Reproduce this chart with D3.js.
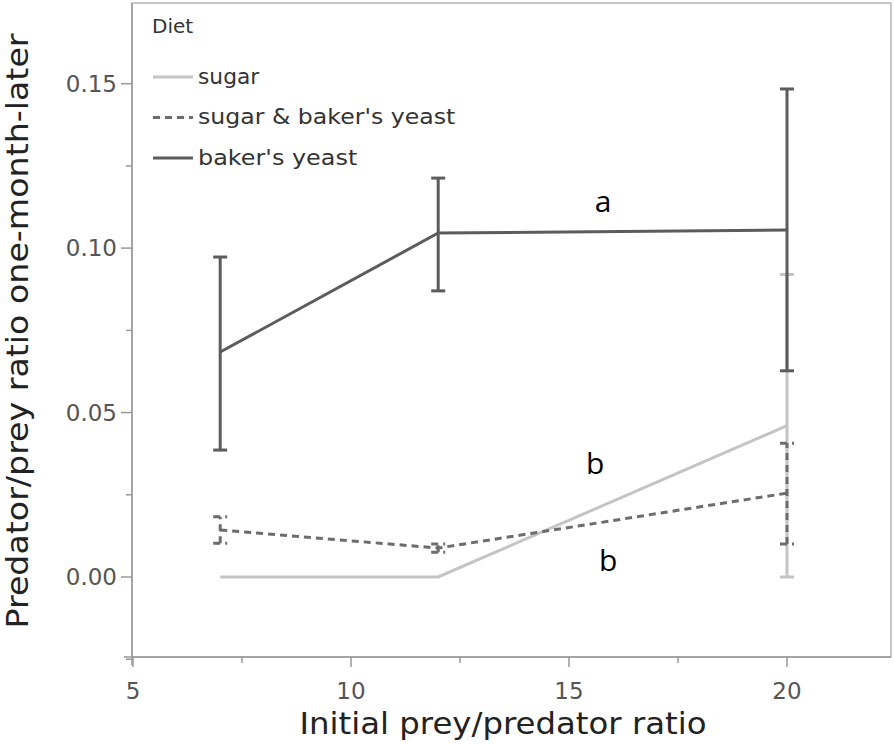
<!DOCTYPE html>
<html>
<head>
<meta charset="utf-8">
<script src="https://cdn.jsdelivr.net/npm/d3@7"></script>
<style>
  body { margin: 0; background: #fff; }
  svg { display: block; font-family: "DejaVu Sans", Verdana, sans-serif; }
</style>
</head>
<body>
<svg class="chart" width="894" height="744"></svg>
<script>
// initial prey/predator ratios
const ratios = [7, 12, 20];
const diets = ["sugar", "sugar & baker's yeast", "baker's yeast"];

// means and error bar limits
const sugarMean = [0.0, 0.0, 0.046];
const sugarLow = [0.0, 0.0, 0.0];
const sugarHigh = [0.0, 0.0, 0.092];

const mixMean = [0.0143, 0.0088, 0.0255];
const mixLow = [0.0103, 0.0075, 0.0100];
const mixHigh = [0.0183, 0.0100, 0.0407];

const yeastMean = [0.0684, 0.1046, 0.1055];
const yeastLow = [0.0386, 0.087, 0.0627];
const yeastHigh = [0.0973, 0.1213, 0.1484];

const xTicks = [5, 10, 15, 20];
const yTicks = [0.00, 0.05, 0.10, 0.15];

const letters = [
  { label: "a", x: 15.78, y: 0.111 },
  { label: "b", x: 15.6, y: 0.0313 },
  { label: "b", x: 15.9, y: 0.0018 }
];

const series = [
  { name: diets[0], mean: sugarMean, low: sugarLow, high: sugarHigh, color: "#c4c4c4", dash: null },
  { name: diets[1], mean: mixMean, low: mixLow, high: mixHigh, color: "#6c6c6c", dash: "7,5" },
  { name: diets[2], mean: yeastMean, low: yeastLow, high: yeastHigh, color: "#5c5c5c", dash: null }
];

const svg = d3.select(".chart");
const frame = { left: 132, right: 891, top: 3, bottom: 657 };

const x = d3.scaleLinear().domain([5, 20]).range([133, 787]);
const y = d3.scaleLinear().domain([0, 0.15]).range([577, 83.7]);

// frame
svg.append("rect")
  .attr("x", frame.left).attr("y", frame.top)
  .attr("width", frame.right - frame.left).attr("height", frame.bottom - frame.top)
  .attr("fill", "none").attr("stroke", "#b4b4b4").attr("stroke-width", 1.5);

// y axis
const yMinor = [-0.025, 0.025, 0.075, 0.125];
const yAxis = svg.append("g").attr("transform", `translate(${frame.left},0)`);
yAxis.append("line").attr("y1", frame.top).attr("y2", frame.bottom + 8)
  .attr("stroke", "#999").attr("stroke-width", 1.5);
yAxis.selectAll(".maj").data(yTicks).join("line")
  .attr("x1", -11).attr("x2", 0)
  .attr("y1", d => y(d)).attr("y2", d => y(d))
  .attr("stroke", "#999").attr("stroke-width", 1.5);
yAxis.selectAll(".min").data(yMinor).join("line")
  .attr("x1", -6).attr("x2", 0)
  .attr("y1", d => y(d)).attr("y2", d => y(d))
  .attr("stroke", "#999").attr("stroke-width", 1.5);
yAxis.selectAll("text").data(yTicks).join("text")
  .attr("x", -15).attr("y", d => y(d))
  .attr("dy", "0.36em").attr("text-anchor", "end")
  .attr("font-size", 23).attr("fill", "#555")
  .text(d => d3.format(".2f")(d));

// x axis
const xMinor = [7.5, 12.5, 17.5];
const xAxis = svg.append("g").attr("transform", `translate(0,${frame.bottom})`);
xAxis.append("line").attr("x1", frame.left - 8).attr("x2", frame.right)
  .attr("stroke", "#999").attr("stroke-width", 1.5);
xAxis.selectAll(".maj").data(xTicks).join("line")
  .attr("x1", d => x(d)).attr("x2", d => x(d))
  .attr("y1", 0).attr("y2", 10)
  .attr("stroke", "#999").attr("stroke-width", 1.5);
xAxis.selectAll(".min").data(xMinor).join("line")
  .attr("x1", d => x(d)).attr("x2", d => x(d))
  .attr("y1", 0).attr("y2", 6)
  .attr("stroke", "#999").attr("stroke-width", 1.5);
xAxis.selectAll("text").data(xTicks).join("text")
  .attr("x", d => x(d)).attr("y", 42)
  .attr("text-anchor", "middle")
  .attr("font-size", 23).attr("fill", "#555")
  .text(d => d);

// axis titles
svg.append("text")
  .attr("x", 503).attr("y", 734)
  .attr("text-anchor", "middle").attr("font-size", 30).attr("fill", "#222")
  .attr("textLength", 407).attr("lengthAdjust", "spacingAndGlyphs")
  .text("Initial prey/predator ratio");
svg.append("text")
  .attr("transform", "translate(28,331) rotate(-90)")
  .attr("text-anchor", "middle").attr("font-size", 30).attr("fill", "#222")
  .attr("textLength", 595).attr("lengthAdjust", "spacingAndGlyphs")
  .text("Predator/prey ratio one-month-later");

// lines and error bars
const line = d3.line().x((d, i) => x(ratios[i])).y(d => y(d));
const cap = 7;

series.forEach(s => {
  const g = svg.append("g");
  const idx = d3.range(ratios.length).filter(i => s.high[i] > s.low[i]);
  g.selectAll(".err").data(idx).join("line")
    .attr("x1", i => x(ratios[i])).attr("x2", i => x(ratios[i]))
    .attr("y1", i => y(s.low[i])).attr("y2", i => y(s.high[i]))
    .attr("stroke", s.color).attr("stroke-width", 3)
    .attr("stroke-dasharray", s.dash);
  ["low", "high"].forEach(k => {
    g.selectAll(".cap" + k).data(idx).join("line")
      .attr("x1", i => x(ratios[i]) - cap).attr("x2", i => x(ratios[i]) + cap)
      .attr("y1", i => y(s[k][i])).attr("y2", i => y(s[k][i]))
      .attr("stroke", s.color).attr("stroke-width", 3)
      .attr("stroke-dasharray", s.dash);
  });
  g.append("path")
    .attr("d", line(s.mean))
    .attr("fill", "none").attr("stroke", s.color).attr("stroke-width", 3)
    .attr("stroke-dasharray", s.dash);
});

// significance letters
svg.selectAll(".letter").data(letters).join("text")
  .attr("x", d => x(d.x)).attr("y", d => y(d.y))
  .attr("text-anchor", "middle")
  .attr("font-family", "'Open Sans', sans-serif")
  .attr("font-size", 30).attr("fill", "#000")
  .text(d => d.label);

// legend
const legend = svg.append("g").attr("transform", "translate(152,0)");
legend.append("text").attr("x", 0).attr("y", 33)
  .attr("font-size", 20).attr("fill", "#333").text("Diet");
const item = legend.selectAll(".item").data(series).join("g")
  .attr("transform", (d, i) => `translate(0,${77 + i * 40.5})`);
item.append("line").attr("x1", 1).attr("x2", 41)
  .attr("stroke", d => d.color).attr("stroke-width", 3)
  .attr("stroke-dasharray", d => d.dash);
item.append("text").attr("x", 46).attr("dy", "0.3em")
  .attr("font-size", 22).attr("fill", "#333")
  .attr("textLength", d => d.name.length * 12.25).attr("lengthAdjust", "spacingAndGlyphs")
  .text(d => d.name);
</script>
</body>
</html>
